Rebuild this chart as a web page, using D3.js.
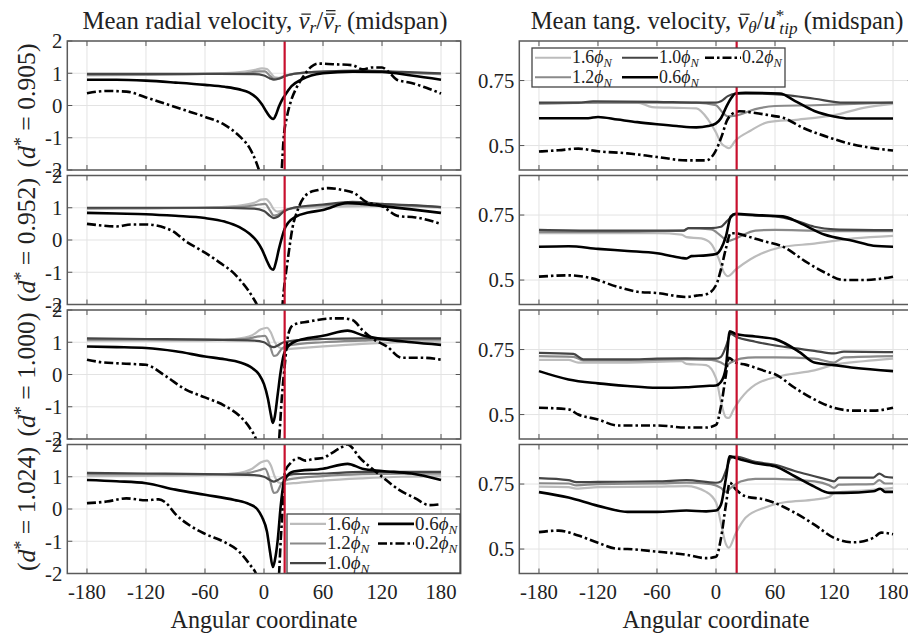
<!DOCTYPE html>
<html><head><meta charset="utf-8">
<script src="https://cdn.jsdelivr.net/npm/d3@7"></script>
<style>body{margin:0;background:#fff}svg{display:block}svg text{font-family:'Liberation Serif','Times New Roman',Times,'DejaVu Serif',serif;fill:#222}</style>
</head><body><svg id="c" width="908" height="633"></svg>
<script>
// ---------- DATA ----------
const xTicks = [-180,-120,-60,0,60,120,180];
const yTicksRadial = [-2,-1,0,1,2];
const yTicksTang = [0.5,0.75];
const dLabels = ["0.905","0.952","1.000","1.024"];
const seriesLabels = ["1.6","1.2","1.0","0.6","0.2"];
const redLineAngle = 21;

// radial velocity, d*=0.905
const r1_16 = [[-180,0.93],[-120,0.95],[-60,0.98],[-30,1.02],[-10,1.1],[-2,1.15],[3,1.13],[7,1.0],[11,0.87],[15,0.86],[22,0.93],[30,0.98],[50,1.02],[80,1.05],[120,1.04],[150,1.02],[180,0.98]];
const r1_12 = [[-180,0.95],[-120,0.96],[-60,0.98],[-20,1.0],[-5,1.06],[1,1.06],[6,0.92],[10,0.83],[15,0.84],[22,0.92],[30,0.98],[60,1.05],[100,1.07],[140,1.02],[180,0.97]];
const r1_10 = [[-180,0.98],[-120,0.98],[-60,0.98],[-10,0.97],[0,0.93],[6,0.84],[10,0.8],[15,0.83],[22,0.92],[35,1.0],[60,1.05],[100,1.08],[140,1.04],[180,1.0]];
const r1_06 = [[-180,0.8],[-150,0.8],[-120,0.77],[-90,0.71],[-60,0.64],[-40,0.58],[-25,0.5],[-15,0.4],[-7,0.22],[-2,0.03],[3,-0.22],[7,-0.38],[9.5,-0.42],[12,-0.3],[15,-0.05],[18,0.15],[21,0.3],[28,0.6],[38,0.8],[48,0.93],[60,1.0],[90,1.05],[120,1.04],[150,0.93],[180,0.8]];
const r1_02 = [[-180,0.38],[-160,0.45],[-140,0.43],[-120,0.25],[-100,0.05],[-80,-0.15],[-60,-0.35],[-40,-0.6],[-25,-0.95],[-15,-1.3],[-8,-1.75],[-2,-2.3],[5,-3],[15,-3],[18,-2],[20,-1.0],[23,-0.4],[27,0.1],[33,0.55],[40,0.9],[48,1.2],[55,1.3],[70,1.28],[90,1.25],[100,1.12],[110,1.18],[120,1.18],[128,1.0],[135,0.8],[150,0.7],[165,0.55],[180,0.37]];

// radial velocity, d*=0.952
const r2_16 = [[-180,0.97],[-120,0.98],[-60,1.0],[-30,1.05],[-10,1.15],[-3,1.25],[2,1.27],[6,1.15],[10,0.95],[14,0.88],[20,0.92],[30,0.98],[60,1.02],[100,1.05],[140,1.05],[180,1.0]];
const r2_12 = [[-180,0.98],[-120,0.99],[-60,1.0],[-20,1.03],[-5,1.1],[1,1.12],[6,0.92],[10,0.76],[14,0.78],[20,0.9],[30,1.0],[60,1.08],[100,1.12],[140,1.08],[180,1.02]];
const r2_10 = [[-180,1.0],[-120,1.0],[-60,1.0],[-10,0.97],[0,0.9],[6,0.75],[10,0.68],[14,0.72],[20,0.88],[30,1.0],[60,1.1],[90,1.18],[120,1.12],[150,1.08],[180,1.02]];
const r2_06 = [[-180,0.84],[-150,0.82],[-120,0.8],[-90,0.75],[-60,0.68],[-40,0.57],[-25,0.4],[-15,0.2],[-7,-0.05],[-2,-0.3],[3,-0.65],[7,-0.88],[9.5,-0.92],[12,-0.7],[15,-0.3],[18,0.05],[21,0.35],[25,0.55],[32,0.72],[45,0.85],[60,0.93],[85,1.15],[100,1.12],[120,1.05],[150,0.95],[180,0.84]];
const r2_02 = [[-180,0.5],[-165,0.45],[-150,0.42],[-135,0.48],[-120,0.48],[-93,0.28],[-80,-0.03],[-60,-0.39],[-45,-0.7],[-30,-1.05],[-20,-1.4],[-12,-1.75],[-6,-2.1],[0,-2.8],[10,-3.2],[17,-2.6],[20,-1.6],[24,-0.65],[29,0.38],[35,0.99],[45,1.45],[55,1.55],[65,1.61],[80,1.55],[92,1.45],[103,1.2],[120,1.05],[137,0.74],[154,0.7],[180,0.5]];

// radial velocity, d*=1.000
const r3_16 = [[-180,1.05],[-120,1.05],[-60,1.05],[-30,1.1],[-12,1.22],[-3,1.4],[3,1.45],[7,1.3],[11,1.0],[15,0.85],[22,0.78],[30,0.8],[60,0.87],[100,0.95],[140,1.0],[180,1.02]];
const r3_12 = [[-180,1.08],[-120,1.08],[-60,1.08],[-20,1.1],[-5,1.18],[1,1.2],[6,0.9],[10,0.58],[13,0.6],[18,0.8],[25,0.9],[60,1.0],[100,1.05],[140,1.08],[180,1.08]];
const r3_10 = [[-180,1.12],[-120,1.1],[-60,1.08],[-10,1.05],[0,1.0],[6,0.88],[10,0.85],[14,0.9],[20,1.0],[30,1.05],[60,1.1],[100,1.12],[140,1.12],[180,1.12]];
const r3_06 = [[-180,0.87],[-150,0.85],[-120,0.82],[-90,0.72],[-60,0.56],[-40,0.47],[-25,0.38],[-12,0.2],[-5,0.0],[0,-0.3],[4,-0.75],[7,-1.25],[9,-1.5],[11,-1.3],[14,-0.6],[17,0.1],[20,0.6],[24,0.85],[30,1.0],[45,1.13],[60,1.2],[85,1.36],[100,1.22],[120,1.1],[150,1.0],[180,0.92]];
const r3_02 = [[-180,0.46],[-165,0.38],[-150,0.35],[-130,0.32],[-120,0.3],[-100,-0.05],[-80,-0.46],[-60,-0.71],[-40,-0.97],[-25,-1.28],[-15,-1.63],[-7,-2.1],[0,-3],[10,-3.5],[15,-2.2],[18,-0.77],[21,0.26],[25,1.28],[30,1.54],[45,1.64],[70,1.74],[80,1.74],[90,1.69],[100,1.38],[110,1.12],[125,0.87],[140,0.52],[160,0.52],[180,0.46]];

// radial velocity, d*=1.024
const r4_16 = [[-180,1.02],[-120,1.03],[-60,1.05],[-30,1.1],[-12,1.25],[-3,1.45],[3,1.5],[7,1.35],[11,1.0],[15,0.82],[22,0.78],[30,0.8],[60,0.88],[100,0.95],[140,1.0],[180,1.02]];
const r4_12 = [[-180,1.08],[-120,1.08],[-60,1.08],[-20,1.1],[-5,1.2],[1,1.25],[6,0.9],[10,0.5],[13,0.52],[18,0.8],[25,0.92],[60,1.02],[100,1.08],[140,1.1],[180,1.1]];
const r4_10 = [[-180,1.12],[-120,1.1],[-60,1.08],[-10,1.05],[0,1.0],[6,0.9],[10,0.85],[14,0.9],[20,1.0],[30,1.08],[60,1.1],[100,1.15],[140,1.15],[180,1.15]];
const r4_06 = [[-180,0.9],[-150,0.86],[-120,0.8],[-90,0.6],[-60,0.44],[-30,0.28],[-15,0.15],[-7,0.0],[-2,-0.25],[3,-0.7],[6,-1.3],[9,-1.8],[11,-1.6],[14,-0.95],[17,0.1],[20,0.8],[23,1.0],[30,1.16],[60,1.25],[85,1.4],[100,1.25],[120,1.18],[150,1.1],[180,0.9]];
const r4_02 = [[-180,0.18],[-160,0.23],[-140,0.33],[-120,0.27],[-107,0.3],[-100,0.2],[-90,-0.16],[-75,-0.52],[-60,-0.77],[-40,-1.03],[-25,-1.33],[-15,-1.7],[-7,-2.1],[0,-3],[10,-3.5],[15,-2.2],[17,-0.97],[19,0.07],[20,0.8],[22,1.2],[27,1.42],[35,1.58],[42,1.5],[50,1.55],[60,1.58],[67,1.7],[78,1.9],[85,2.0],[88,1.95],[97,1.6],[110,1.25],[120,1.0],[137,0.6],[154,0.33],[168,0.12],[180,0.15]];

// tangential velocity, d*=0.905
const t1_16 = [[-180,0.66],[-120,0.665],[-80,0.665],[-65,0.648],[-40,0.645],[-20,0.643],[-8,0.6],[0,0.55],[5,0.51],[10,0.495],[13,0.49],[20,0.52],[35,0.557],[53,0.59],[84,0.6],[124,0.62],[150,0.645],[180,0.66]];
const t1_12 = [[-180,0.662],[-120,0.665],[-60,0.665],[-20,0.665],[0,0.655],[6,0.63],[12,0.612],[20,0.615],[40,0.64],[60,0.652],[100,0.655],[140,0.66],[180,0.665]];
const t1_10 = [[-180,0.665],[-140,0.665],[-125,0.67],[-60,0.668],[-20,0.665],[0,0.665],[5,0.67],[12,0.69],[20,0.7],[40,0.7],[70,0.695],[100,0.68],[130,0.665],[180,0.665]];
const t1_06 = [[-180,0.605],[-130,0.605],[-120,0.61],[-100,0.6],[-80,0.59],[-60,0.582],[-40,0.575],[-20,0.57],[-8,0.575],[0,0.585],[5,0.605],[10,0.645],[15,0.68],[20,0.7],[30,0.703],[65,0.7],[80,0.672],[100,0.633],[120,0.612],[135,0.604],[180,0.604]];
const t1_02 = [[-180,0.477],[-160,0.482],[-140,0.488],[-120,0.478],[-90,0.47],[-60,0.456],[-30,0.443],[-10,0.443],[-1,0.475],[6,0.538],[11,0.595],[16,0.62],[24,0.632],[40,0.625],[58,0.614],[68,0.607],[88,0.569],[119,0.526],[136,0.507],[160,0.49],[180,0.481]];

// tangential velocity, d*=0.952
const t2_16 = [[-180,0.68],[-120,0.68],[-60,0.68],[-35,0.675],[-30,0.665],[-15,0.66],[-5,0.64],[3,0.58],[8,0.53],[12,0.515],[20,0.54],[35,0.58],[65,0.625],[100,0.64],[140,0.66],[180,0.67]];
const t2_12 = [[-180,0.685],[-120,0.685],[-60,0.688],[-33,0.69],[-28,0.7],[-5,0.695],[5,0.67],[12,0.65],[20,0.66],[40,0.69],[60,0.693],[100,0.69],[140,0.688],[180,0.688]];
const t2_10 = [[-180,0.693],[-120,0.69],[-60,0.69],[-33,0.69],[-28,0.7],[-5,0.7],[5,0.705],[12,0.73],[20,0.752],[40,0.748],[60,0.745],[80,0.73],[100,0.705],[120,0.695],[180,0.692]];
const t2_06 = [[-180,0.628],[-150,0.63],[-120,0.62],[-90,0.612],[-60,0.603],[-35,0.585],[-30,0.583],[-25,0.592],[-10,0.595],[0,0.6],[5,0.62],[10,0.667],[15,0.744],[20,0.755],[40,0.75],[68,0.745],[85,0.72],[110,0.675],[140,0.65],[160,0.632],[180,0.628]];
const t2_02 = [[-180,0.513],[-150,0.518],[-130,0.51],[-100,0.474],[-80,0.455],[-60,0.45],[-30,0.435],[-20,0.44],[-10,0.445],[0,0.48],[5,0.54],[10,0.62],[15,0.68],[20,0.68],[30,0.67],[48,0.65],[70,0.625],[90,0.574],[110,0.53],[130,0.5],[150,0.5],[180,0.513]];

// tangential velocity, d*=1.000
const t3_16 = [[-180,0.71],[-150,0.71],[-140,0.7],[-90,0.7],[-35,0.705],[-30,0.695],[-10,0.69],[0,0.64],[5,0.55],[10,0.49],[13,0.487],[18,0.52],[25,0.56],[40,0.615],[68,0.65],[100,0.67],[119,0.69],[150,0.705],[180,0.715]];
const t3_12 = [[-180,0.725],[-145,0.722],[-135,0.708],[-90,0.708],[-35,0.712],[-5,0.71],[5,0.7],[10,0.69],[15,0.7],[25,0.715],[40,0.72],[60,0.72],[100,0.715],[120,0.7],[130,0.72],[180,0.725]];
const t3_10 = [[-180,0.737],[-145,0.733],[-135,0.712],[-90,0.712],[-60,0.715],[-30,0.716],[0,0.715],[5,0.722],[10,0.76],[15,0.81],[20,0.8],[40,0.78],[70,0.76],[100,0.745],[120,0.735],[130,0.742],[180,0.74]];
const t3_06 = [[-180,0.667],[-150,0.635],[-120,0.62],[-90,0.61],[-60,0.603],[-30,0.605],[-10,0.61],[0,0.612],[5,0.625],[10,0.68],[14,0.82],[20,0.81],[40,0.8],[60,0.79],[85,0.74],[100,0.7],[120,0.69],[140,0.68],[180,0.667]];
const t3_02 = [[-180,0.526],[-150,0.52],[-140,0.5],[-120,0.481],[-100,0.458],[-60,0.458],[-30,0.45],[-10,0.45],[0,0.46],[5,0.53],[10,0.65],[13,0.718],[20,0.7],[30,0.692],[50,0.667],[60,0.655],[80,0.603],[100,0.558],[120,0.526],[140,0.515],[160,0.515],[180,0.526]];

// tangential velocity, d*=1.024
const t4_16 = [[-180,0.74],[-150,0.738],[-142,0.732],[-120,0.738],[-60,0.74],[-30,0.742],[-10,0.72],[0,0.68],[5,0.6],[10,0.52],[13,0.505],[20,0.56],[30,0.62],[50,0.66],[70,0.68],[100,0.69],[115,0.7],[120,0.715],[150,0.725],[180,0.735]];
const t4_12 = [[-180,0.753],[-150,0.752],[-142,0.745],[-120,0.75],[-60,0.752],[-30,0.755],[-5,0.75],[5,0.735],[10,0.72],[15,0.735],[25,0.76],[40,0.77],[60,0.77],[100,0.76],[115,0.745],[120,0.735],[125,0.748],[160,0.75],[166,0.765],[172,0.752],[180,0.752]];
const t4_10 = [[-180,0.773],[-150,0.765],[-142,0.757],[-120,0.758],[-60,0.76],[-30,0.765],[0,0.755],[5,0.76],[10,0.8],[15,0.85],[20,0.855],[40,0.835],[60,0.824],[80,0.8],[100,0.78],[115,0.765],[120,0.76],[125,0.775],[160,0.775],[166,0.79],[172,0.778],[180,0.775]];
const t4_06 = [[-180,0.719],[-150,0.698],[-120,0.666],[-90,0.643],[-60,0.643],[-30,0.648],[-10,0.645],[0,0.648],[5,0.67],[10,0.77],[14,0.857],[20,0.85],[40,0.83],[60,0.818],[80,0.78],[100,0.74],[115,0.716],[130,0.716],[160,0.722],[167,0.732],[172,0.72],[180,0.72]];
const t4_02 = [[-180,0.565],[-160,0.571],[-140,0.552],[-120,0.524],[-100,0.501],[-90,0.5],[-60,0.49],[-30,0.478],[-10,0.465],[0,0.47],[5,0.54],[10,0.668],[14,0.755],[20,0.73],[30,0.703],[50,0.69],[60,0.677],[80,0.64],[100,0.594],[120,0.543],[140,0.526],[160,0.543],[168,0.563],[180,0.557]];

const radialPanels = [[r1_16,r1_12,r1_10,r1_06,r1_02],[r2_16,r2_12,r2_10,r2_06,r2_02],[r3_16,r3_12,r3_10,r3_06,r3_02],[r4_16,r4_12,r4_10,r4_06,r4_02]];
const tangPanels = [[t1_16,t1_12,t1_10,t1_06,t1_02],[t2_16,t2_12,t2_10,t2_06,t2_02],[t3_16,t3_12,t3_10,t3_06,t3_02],[t4_16,t4_12,t4_10,t4_06,t4_02]];

// ---------- STYLE / LAYOUT ----------
const styles = [
  {color:"#bcbcbc", w:2.2, dash:null},
  {color:"#8a8a8a", w:2.2, dash:null},
  {color:"#454545", w:2.2, dash:null},
  {color:"#000000", w:2.6, dash:null},
  {color:"#000000", w:2.6, dash:"9,3,2.5,3"}
];
const panelTops = [41,175.5,310,444.5];
const panelH = 129;
const leftRange = [67.3,460.7];
const rightRange = [519.3,912.7];
const svg = d3.select("#c");
const defs = svg.append("defs");
const line = (x,y) => d3.line().x(d=>x(d[0])).y(d=>y(d[1])).curve(d3.curveMonotoneX);

function fit(sel, target){
  const n = sel.node();
  const fs = parseFloat(sel.attr("font-size"));
  const w = n.getBBox().width;
  if(w>0) sel.attr("font-size", (fs*target/w).toFixed(2));
  return sel;
}
const probe = svg.append("text").attr("font-size",20).text("-180");
const tickFs = 20*38/probe.node().getBBox().width;
probe.remove();

function drawPanel(id, xr, top, yDomain, yTicks, data, isBottom){
  const x = d3.scaleLinear().domain([-200,200]).range(xr);
  const y = d3.scaleLinear().domain(yDomain).range([top+panelH, top]);
  const g = svg.append("g");
  const w = xr[1]-xr[0];
  defs.append("clipPath").attr("id",id).append("rect").attr("x",xr[0]).attr("y",top).attr("width",w).attr("height",panelH);
  g.append("rect").attr("x",xr[0]).attr("y",top).attr("width",w).attr("height",panelH).attr("fill","#fff");
  g.selectAll(".gx").data(xTicks).join("line").attr("x1",d=>x(d)).attr("x2",d=>x(d)).attr("y1",top).attr("y2",top+panelH).attr("stroke","#e3e3e3").attr("stroke-width",1);
  g.selectAll(".gy").data(yTicks).join("line").attr("x1",xr[0]).attr("x2",xr[1]).attr("y1",d=>y(d)).attr("y2",d=>y(d)).attr("stroke","#e3e3e3").attr("stroke-width",1);
  const lg = g.append("g").attr("clip-path",`url(#${id})`);
  data.forEach((s,i)=>{
    const st = styles[i];
    lg.append("path").attr("d",line(x,y)(s)).attr("fill","none").attr("stroke",st.color).attr("stroke-width",st.w)
      .attr("stroke-dasharray",st.dash).attr("stroke-linejoin","round");
  });
  lg.append("line").attr("x1",x(redLineAngle)).attr("x2",x(redLineAngle)).attr("y1",top).attr("y2",top+panelH).attr("stroke","#c8102e").attr("stroke-width",2.2);
  const tk = 5;
  xTicks.forEach(t=>{
    g.append("line").attr("x1",x(t)).attr("x2",x(t)).attr("y1",top+panelH).attr("y2",top+panelH-tk).attr("stroke","#555");
    g.append("line").attr("x1",x(t)).attr("x2",x(t)).attr("y1",top).attr("y2",top+tk).attr("stroke","#555");
  });
  yTicks.forEach(t=>{
    g.append("line").attr("x1",xr[0]).attr("x2",xr[0]+tk).attr("y1",y(t)).attr("y2",y(t)).attr("stroke","#555");
    g.append("line").attr("x1",xr[1]).attr("x2",xr[1]-tk).attr("y1",y(t)).attr("y2",y(t)).attr("stroke","#555");
  });
  g.append("rect").attr("x",xr[0]).attr("y",top).attr("width",w).attr("height",panelH).attr("fill","none").attr("stroke","#5a5a5a").attr("stroke-width",1.5);
  g.selectAll(".yl").data(yTicks).join("text").attr("x",xr[0]-5).attr("y",d=>y(d)).attr("dy","0.35em")
    .attr("text-anchor","end").attr("font-size",tickFs).text(d=>String(d));
  if(isBottom){
    g.selectAll(".xl").data(xTicks).join("text").attr("x",d=>x(d)).attr("y",top+panelH+25)
      .attr("text-anchor","middle").attr("font-size",tickFs).text(d=>String(d));
  }
  return {x,y,g};
}

function phiLabel(t, num){
  t.append("tspan").text(num);
  t.append("tspan").attr("font-style","italic").text("\u03D5");
  t.append("tspan").attr("font-style","italic").attr("font-size","0.7em").attr("dy",4).text("N");
}

function legend(x0, y0, w, h, rows, cols, fs, textW){
  const lg = svg.append("g");
  lg.append("rect").attr("x",x0).attr("y",y0).attr("width",w).attr("height",h).attr("fill","#fff").attr("stroke","#444").attr("stroke-width",1.3);
  seriesLabels.forEach((lab,i)=>{
    const c = Math.floor(i/rows), r = i%rows;
    const cx = x0 + cols[c], cy = y0 + (r+0.5)*(h/rows);
    const st = styles[i];
    lg.append("line").attr("x1",cx).attr("x2",cx+36).attr("y1",cy).attr("y2",cy).attr("stroke",st.color).attr("stroke-width",st.w).attr("stroke-dasharray",st.dash);
    const t = lg.append("text").attr("x",cx+37).attr("y",cy).attr("dy","0.3em").attr("font-size",fs);
    phiLabel(t, lab);
    fit(t, textW);
  });
}

for(let i=0;i<4;i++){
  drawPanel("cl"+i, leftRange, panelTops[i], [-2,2], yTicksRadial, radialPanels[i], i===3);
  drawPanel("cr"+i, rightRange, panelTops[i], [0.406,0.902], yTicksTang, tangPanels[i], i===3);
  const cy = panelTops[i]+panelH/2;
  const t = svg.append("text").attr("transform",`translate(35,${cy}) rotate(-90)`).attr("text-anchor","middle").attr("font-size",22);
  t.append("tspan").text("(");
  t.append("tspan").attr("font-style","italic").text("d");
  t.append("tspan").attr("font-size","0.7em").attr("dy",-8).text("*");
  t.append("tspan").attr("dy",8).text(" = "+dLabels[i]+")");
  fit(t, 124);
}

legend(287, 514, 173, 59, 3, [3,91], 18, 43);
legend(532, 48, 253, 39, 2, [3,90,173], 17, 41);

// overbars drawn above given character indices of a text element
function overbars(t, baseY, specs){
  const n = t.node();
  const fs = parseFloat(t.attr("font-size"));
  specs.forEach(([idx, count])=>{
    const x0 = n.getStartPositionOfChar(idx).x, x1 = n.getEndPositionOfChar(idx).x;
    for(let k=0;k<count;k++){
      const yy = baseY - fs*(0.6 + 0.14*k);
      svg.append("line").attr("x1",x0+fs*0.12).attr("x2",x1+fs*0.06).attr("y1",yy).attr("y2",yy)
        .attr("stroke","#222").attr("stroke-width",Math.max(1,fs*0.05));
    }
  });
}

const t1 = svg.append("text").attr("x",265).attr("y",29).attr("text-anchor","middle").attr("font-size",22);
t1.append("tspan").text("Mean radial velocity, ");
t1.append("tspan").attr("font-style","italic").text("v");
t1.append("tspan").attr("font-style","italic").attr("font-size","0.7em").attr("dy",4).text("r");
t1.append("tspan").attr("dy",-4).text("/");
t1.append("tspan").attr("font-style","italic").text("v");
t1.append("tspan").attr("font-style","italic").attr("font-size","0.7em").attr("dy",4).text("r");
t1.append("tspan").attr("dy",-4).text(" (midspan)");
fit(t1, 365);
overbars(t1, 29, [[22,1],[25,2]]);

const t2 = svg.append("text").attr("x",717).attr("y",29).attr("text-anchor","middle").attr("font-size",22);
t2.append("tspan").text("Mean tang. velocity, ");
t2.append("tspan").attr("font-style","italic").text("v");
t2.append("tspan").attr("font-style","italic").attr("font-size","0.7em").attr("dy",4).text("\u03B8");
t2.append("tspan").attr("dy",-4).text("/");
t2.append("tspan").attr("font-style","italic").text("u");
t2.append("tspan").attr("font-size","0.7em").attr("dy",-8).text("*");
t2.append("tspan").attr("font-style","italic").attr("font-size","0.7em").attr("dx",-5).attr("dy",13).text("tip");
t2.append("tspan").attr("dy",-5).text(" (midspan)");
fit(t2, 372);
overbars(t2, 29, [[21,1]]);

fit(svg.append("text").attr("x",264).attr("y",628).attr("text-anchor","middle").attr("font-size",22).text("Angular coordinate"), 187);
fit(svg.append("text").attr("x",716).attr("y",628).attr("text-anchor","middle").attr("font-size",22).text("Angular coordinate"), 187);
</script></body></html>
